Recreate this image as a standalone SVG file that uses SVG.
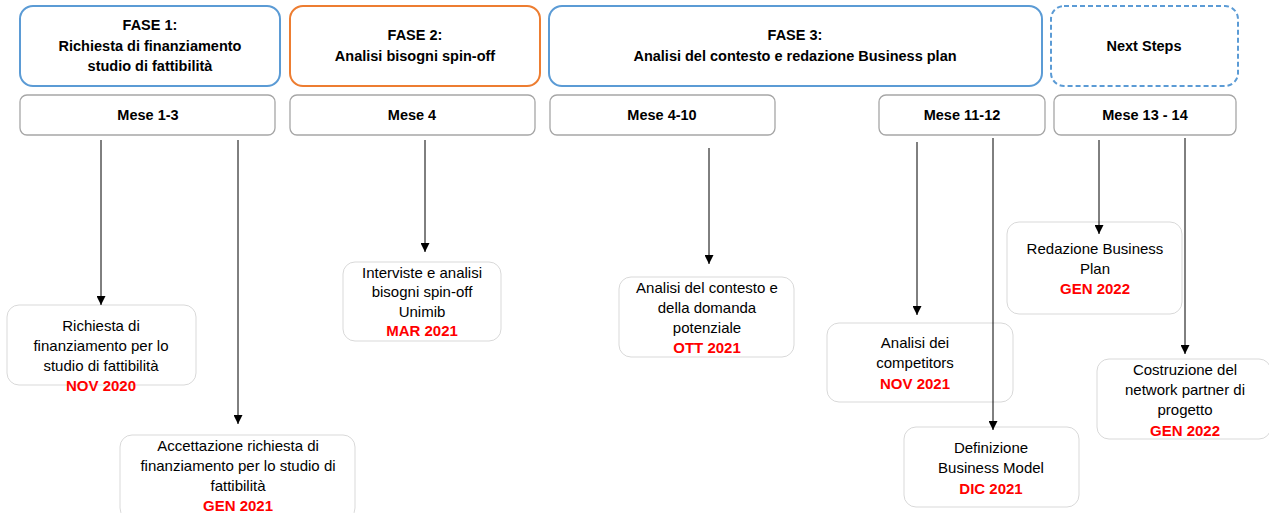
<svg xmlns="http://www.w3.org/2000/svg" width="1269" height="513" viewBox="0 0 1269 513">
<defs>
<marker id="arr" viewBox="0 0 10 10" refX="10" refY="5" markerWidth="9" markerHeight="9" orient="auto" markerUnits="userSpaceOnUse">
<path d="M0,0 L10,5 L0,10 Z" fill="#000"/>
</marker>
</defs>
<style>
text{font-family:"Liberation Sans",Arial,sans-serif;text-anchor:middle;fill:#000}
.h{font-size:14.5px;font-weight:bold}
.m{font-size:14.5px;font-weight:bold}
.b{font-size:15px}
.r{font-size:15px;font-weight:bold;fill:#FF0000}
.phb{fill:#fff;stroke:#5B9BD5;stroke-width:2}
.pho{fill:#fff;stroke:#ED7D31;stroke-width:2}
.phd{fill:#fff;stroke:#5B9BD5;stroke-width:2;stroke-dasharray:5 3}
.mo{fill:#fff;stroke:#A6A6A6;stroke-width:1.3}
.ev{fill:#fff;stroke:#D9D9D9;stroke-width:1}
.c{stroke:#000;stroke-width:1;fill:none;marker-end:url(#arr)}
</style>
<rect width="1269" height="513" fill="#fff"/>
<g id="fase1"><rect class="phb" x="20" y="6" width="260" height="80" rx="13"/>
<text class="h" x="150" y="30">FASE 1:</text><text class="h" x="150" y="51">Richiesta di finanziamento</text><text class="h" x="150" y="71">studio di fattibilità</text></g>
<g id="fase2"><rect class="pho" x="290" y="6" width="250" height="80" rx="13"/>
<text class="h" x="415" y="40">FASE 2:</text><text class="h" x="415" y="61">Analisi bisogni spin-off</text></g>
<g id="fase3"><rect class="phb" x="549" y="6" width="493" height="80" rx="13"/>
<text class="h" x="795" y="40">FASE 3:</text><text class="h" x="795" y="61">Analisi del contesto e redazione Business plan</text></g>
<g id="next"><rect class="phd" x="1051" y="6" width="187" height="80" rx="13"/>
<text class="h" x="1144" y="51">Next Steps</text></g>
<g id="m13"><rect class="mo" x="20" y="95" width="255" height="40" rx="7"/><text class="m" x="148" y="120">Mese 1-3</text></g>
<g id="m4"><rect class="mo" x="290" y="95" width="245" height="40" rx="7"/><text class="m" x="412" y="120">Mese 4</text></g>
<g id="m410"><rect class="mo" x="550" y="95" width="225" height="40" rx="7"/><text class="m" x="662" y="120">Mese 4-10</text></g>
<g id="m1112"><rect class="mo" x="879" y="95" width="166" height="40" rx="7"/><text class="m" x="962" y="120">Mese 11-12</text></g>
<g id="m1314"><rect class="mo" x="1054" y="95" width="182" height="40" rx="7"/><text class="m" x="1145" y="120">Mese 13 - 14</text></g>
<g id="e1"><rect class="ev" x="7" y="305" width="189" height="80" rx="12"/>
<text class="b" x="101" y="331">Richiesta di</text><text class="b" x="101" y="351">finanziamento per lo</text><text class="b" x="101" y="371">studio di fattibilità</text><text class="r" x="101" y="391">NOV 2020</text></g>
<g id="e2"><rect class="ev" x="120" y="435" width="235" height="85" rx="12"/>
<text class="b" x="238" y="451">Accettazione richiesta di</text><text class="b" x="238" y="471">finanziamento per lo studio di</text><text class="b" x="238" y="491">fattibilità</text><text class="r" x="238" y="511">GEN 2021</text></g>
<g id="e3"><rect class="ev" x="343" y="262" width="158" height="79" rx="12"/>
<text class="b" x="422" y="278">Interviste e analisi</text><text class="b" x="422" y="297">bisogni spin-off</text><text class="b" x="422" y="317">Unimib</text><text class="r" x="422" y="336">MAR 2021</text></g>
<g id="e4"><rect class="ev" x="619" y="277" width="175" height="80" rx="12"/>
<text class="b" x="707" y="293">Analisi del contesto e</text><text class="b" x="707" y="313">della domanda</text><text class="b" x="707" y="333">potenziale</text><text class="r" x="707" y="353">OTT 2021</text></g>
<g id="e5"><rect class="ev" x="827" y="323" width="186" height="79" rx="12"/>
<text class="b" x="915" y="348">Analisi dei</text><text class="b" x="915" y="368">competitors</text><text class="r" x="915" y="389">NOV 2021</text></g>
<g id="e6"><rect class="ev" x="904" y="427" width="175" height="80" rx="12"/>
<text class="b" x="991" y="453">Definizione</text><text class="b" x="991" y="473">Business Model</text><text class="r" x="991" y="494">DIC 2021</text></g>
<g id="e7"><rect class="ev" x="1007" y="222" width="175" height="92" rx="12"/>
<text class="b" x="1095" y="254">Redazione Business</text><text class="b" x="1095" y="274">Plan</text><text class="r" x="1095" y="294">GEN 2022</text></g>
<g id="e8"><rect class="ev" x="1097" y="359" width="174" height="80" rx="12"/>
<text class="b" x="1185" y="375">Costruzione del</text><text class="b" x="1185" y="395">network partner di</text><text class="b" x="1185" y="415">progetto</text><text class="r" x="1185" y="436">GEN 2022</text></g>
<g id="connectors">
<line class="c" x1="101" y1="140" x2="101" y2="305"/>
<line class="c" x1="238" y1="140" x2="238" y2="424"/>
<line class="c" x1="425" y1="140" x2="425" y2="252"/>
<line class="c" x1="709" y1="148" x2="709" y2="264"/>
<line class="c" x1="917" y1="142" x2="917" y2="315"/>
<line class="c" x1="993" y1="138" x2="993" y2="430"/>
<line class="c" x1="1099" y1="140" x2="1099" y2="234"/>
<line class="c" x1="1185" y1="138" x2="1185" y2="354"/>
</g>
</svg>
